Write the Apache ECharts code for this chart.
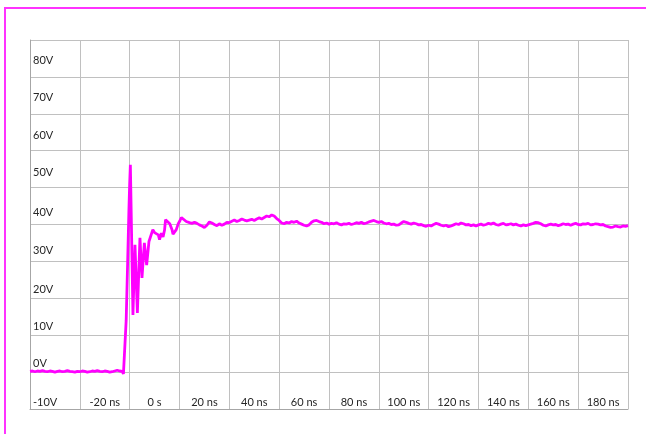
<!DOCTYPE html>
<html>
<head>
<meta charset="utf-8">
<script src="https://cdn.jsdelivr.net/npm/echarts@6/dist/echarts.min.js"></script>
<style>
html,body{margin:0;padding:0;background:#fff;}
#frame{position:absolute;left:4px;top:7px;width:700px;height:500px;border-top:2px solid #ff33ff;border-left:2px solid #ff33ff;}
#chart{position:absolute;left:0;top:0;width:646px;height:434px;}
</style>
</head>
<body>
<div id="frame"></div>
<div id="chart"></div>
<script>
// ---- data ----
const xTickLabels = ['', '-20 ns', '0 s', '20 ns', '40 ns', '60 ns', '80 ns', '100 ns', '120 ns', '140 ns', '160 ns', '180 ns'];
const yTickValues = [-10, 0, 10, 20, 30, 40, 50, 60, 70, 80];

const timeNs = [
  -40,-39,-38,-37,-36,-35,-34,-33,-32,-31,-30,-29,-28,-27,-26,-25,-24,-23,-22,-21,
  -20,-19,-18,-17,-16,-15,-14,-13,-12,-11,-10,-9,-8,-7,-6,-5,-4,-3,-2.5,-2.0,
  -1.4,-0.8,-0.3,0.0,0.28,0.8,1.32,2.13,3.09,4.13,4.94,5.9,6.82,7.75,
  8.0,9.3,10.0,10.7,11.5,12.0,12.7,13.4,14.0,14.4,15.0,16.1,17.0,17.4,18.0,18.7,19.5,
  20.0,20.75,21.5,22.7,24,25,26,27,28,29,30,31,32,33,34,35,36,37,38,39,
  40,41,42,43,44,45,46,47,48,49,50,51,52,53,54,55,56,57,58,59,
  60,61,62,63,64,65,66,67,68,69,70,71,72,73,74,75,76,77,78,79,
  80,81,82,83,84,85,86,87,88,89,90,91,92,93,94,95,96,97,98,99,
  100,101,102,103,104,105,106,107,108,109,110,111,112,113,114,115,116,117,118,119,
  120,121,122,123,124,125,126,127,128,129,130,131,132,133,134,135,136,137,138,139,
  140,141,142,143,144,145,146,147,148,149,150,151,152,153,154,155,156,157,158,159,
  160,161,162,163,164,165,166,167,168,169,170,171,172,173,174,175,176,177,178,179,
  180,181,182,183,184,185,186,187,188,189,190,191,192,193,194,195,196,197,198,199,200
];
const volts = [
  0.2,0.3,0.1,0.3,0.2,0.4,0.2,0.1,0.3,0.2,0.0,0.2,0.3,0.1,0.2,0.4,0.2,0.1,0.0,0.2,
  0.1,0.3,0.2,0.0,0.1,0.3,0.2,0.4,0.2,0.1,0.3,0.2,0.0,0.1,0.3,0.5,0.3,0.2,-0.5,-0.9,
  14,30,44,51,56.2,36,15.5,34.5,16,36.4,25.5,35,29,35.4,
  35.2,38.6,37.8,38.1,37.2,35.9,37.7,36.6,38.5,41.3,41.0,40.2,38.6,37.4,37.6,38.6,40.2,
  40.8,41.9,41.4,40.8,40.5,40.3,40.6,40.3,39.9,39.6,39.2,39.8,40.7,40.4,40.0,39.7,40.2,39.8,40.1,40.6,
  40.5,40.9,41.2,40.8,41.1,41.5,41.2,41.0,41.2,41.4,41.1,41.5,41.8,41.5,41.9,42.3,42.1,42.6,42.3,41.6,
  41.1,40.4,40.2,40.6,40.4,40.8,40.6,40.9,40.4,40.1,39.8,39.6,39.9,40.6,41.0,41.1,40.8,40.6,40.2,40.4,
  40.1,40.3,40.2,40.5,40.1,39.9,40.2,40.1,40.3,40.0,40.2,40.5,40.3,40.6,40.2,40.4,40.7,40.9,41.1,40.8,
  40.6,40.8,40.4,40.2,40.3,40.0,40.1,39.8,39.9,40.4,40.8,40.6,40.3,40.1,40.4,40.2,39.9,40.0,39.7,39.5,
  39.8,39.6,40.0,40.3,40.1,39.8,39.6,39.8,39.4,39.6,39.9,40.2,40.0,40.4,40.2,39.9,40.0,39.7,39.9,39.6,
  39.9,40.1,39.8,40.0,40.3,40.1,40.4,40.0,39.8,40.1,40.3,39.9,40.0,40.2,39.9,40.1,39.8,39.6,39.9,39.7,
  39.9,40.1,40.3,40.6,40.5,40.2,39.8,39.6,39.9,40.1,39.9,40.0,39.7,39.9,40.2,40.0,40.1,39.8,40.1,40.3,
  40.0,39.9,40.2,40.1,40.3,39.9,40.0,40.2,40.1,39.9,40.0,39.6,39.4,39.2,39.3,39.6,39.4,39.3,39.6,39.5,39.7
];

// ---- chart ----
const seriesData = timeNs.map((t, i) => [t, volts[i]]);
const labelLift = { '-10': 7, '0': 9, '10': 9, '20': 9, '30': 11, '40': 12, '50': 15, '60': 15, '70': 16, '80': 16 };
const textColor = '#262626';
const rich = {};
yTickValues.forEach(v => {
  const key = 'k' + (v < 0 ? 'm' + (-v) : v);
  rich[key] = { padding: [0, 0, 2 * labelLift[String(v)], 0], fontFamily: 'Lato', fontSize: 11, color: textColor };
});

const chart = echarts.init(document.getElementById('chart'), null, { renderer: 'canvas' });
chart.setOption({
  animation: false,
  backgroundColor: 'transparent',
  grid: { left: 30, top: 40, width: 598, height: 369, containLabel: false },
  xAxis: [
    {
      type: 'value', min: -40, max: 200, interval: 20,
      axisLine: { show: true, onZero: false, lineStyle: { color: '#a6a6a6', width: 1 } },
      axisTick: { show: false },
      axisLabel: { show: false },
      splitLine: { show: true, lineStyle: { color: '#c0c0c0', width: 1 } }
    },
    {
      type: 'category', data: xTickLabels, boundaryGap: true, position: 'bottom',
      axisLine: { show: false }, axisTick: { show: false }, splitLine: { show: false },
      axisLabel: { inside: true, margin: 1, verticalAlign: 'bottom', interval: 0,
        fontFamily: 'Lato', fontSize: 11, color: textColor }
    }
  ],
  yAxis: {
    type: 'value', min: -10, max: 90, interval: 10,
    axisLine: { show: true, onZero: false, lineStyle: { color: '#a6a6a6', width: 1 } },
    axisTick: { show: false },
    splitLine: { show: true, lineStyle: { color: '#c0c0c0', width: 1 } },
    axisLabel: {
      inside: true, margin: 3, align: 'left', showMaxLabel: false,
      formatter: v => {
        if (v >= 90) return '';
        const key = 'k' + (v < 0 ? 'm' + (-v) : v);
        return '{' + key + '|' + v + 'V}';
      },
      rich: rich
    }
  },
  series: [{
    type: 'line', xAxisIndex: 0, data: seriesData, showSymbol: false, symbol: 'none',
    lineStyle: { color: '#ff00ff', width: 2.8 }, smooth: false
  }]
});
</script>
</body>
</html>
